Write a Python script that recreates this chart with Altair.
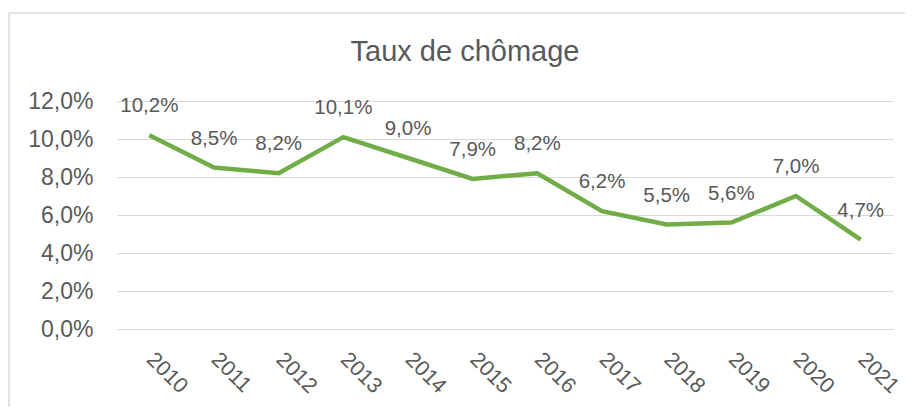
import altair as alt
import pandas as pd

years = ["2010", "2011", "2012", "2013", "2014", "2015", "2016", "2017", "2018", "2019", "2020", "2021"]
rates = [10.2, 8.5, 8.2, 10.1, 9.0, 7.9, 8.2, 6.2, 5.5, 5.6, 7.0, 4.7]

df = pd.DataFrame({"year": years, "rate": [r / 100 for r in rates]})

FONT = "Liberation Sans"
GRAY = "#595959"
W, H = 776, 228

base = alt.Chart(df).encode(
    x=alt.X("year:O", sort=years, title=None,
            scale=alt.Scale(padding=0.5),
            axis=alt.Axis(labelAngle=45, labelAlign="left", labelBaseline="middle",
                          labelPadding=27, labelFontSize=21.5, labelColor=GRAY,
                          labelFont=FONT, domain=False, ticks=False, grid=False)),
    y=alt.Y("rate:Q", title=None,
            scale=alt.Scale(domain=[0, 0.12], nice=False),
            axis=alt.Axis(values=[0, 0.02, 0.04, 0.06, 0.08, 0.10, 0.12],
                          labelExpr="replace(format(datum.value, '.1%'), '.', ',')",
                          labelFontSize=23, labelColor=GRAY, labelFont=FONT,
                          labelPadding=24, domain=False, ticks=False,
                          grid=True, gridColor="#D9D9D9", gridWidth=1.2)),
)

line = base.mark_line(color="#70AD47", strokeWidth=4.5, strokeJoin="miter")

labels = base.transform_calculate(
    lab="replace(format(datum.rate, '.1%'), '.', ',')"
).mark_text(fontSize=20.5, font=FONT, color=GRAY, baseline="alphabetic", dy=-23).encode(
    text="lab:N"
)

frame_data = alt.Data(values=[{"k": 1}])
frame_v = alt.Chart(frame_data).mark_rule(color="#D9D9D9", strokeWidth=1.5).encode(
    x=alt.value(-108), y=alt.value(-88), y2=alt.value(H + 100)
)
frame_h = alt.Chart(frame_data).mark_rule(color="#D9D9D9", strokeWidth=1.5).encode(
    x=alt.value(-108), x2=alt.value(W + 100), y=alt.value(-88)
)

chart = alt.layer(frame_v, frame_h, line, labels).properties(
    width=W, height=H,
    title=alt.TitleParams("Taux de chômage", fontSize=29, font=FONT, color=GRAY,
                          fontWeight="normal", anchor="middle", frame="group",
                          baseline="alphabetic", offset=-78, dx=-40),
    autosize=alt.AutoSizeParams(type="none"),
    padding={"left": 109, "top": 93, "right": 12, "bottom": 78},
).configure(background="white").configure_view(stroke=None)

chart.save("out.html", embed_options={"renderer": "svg", "actions": False})
